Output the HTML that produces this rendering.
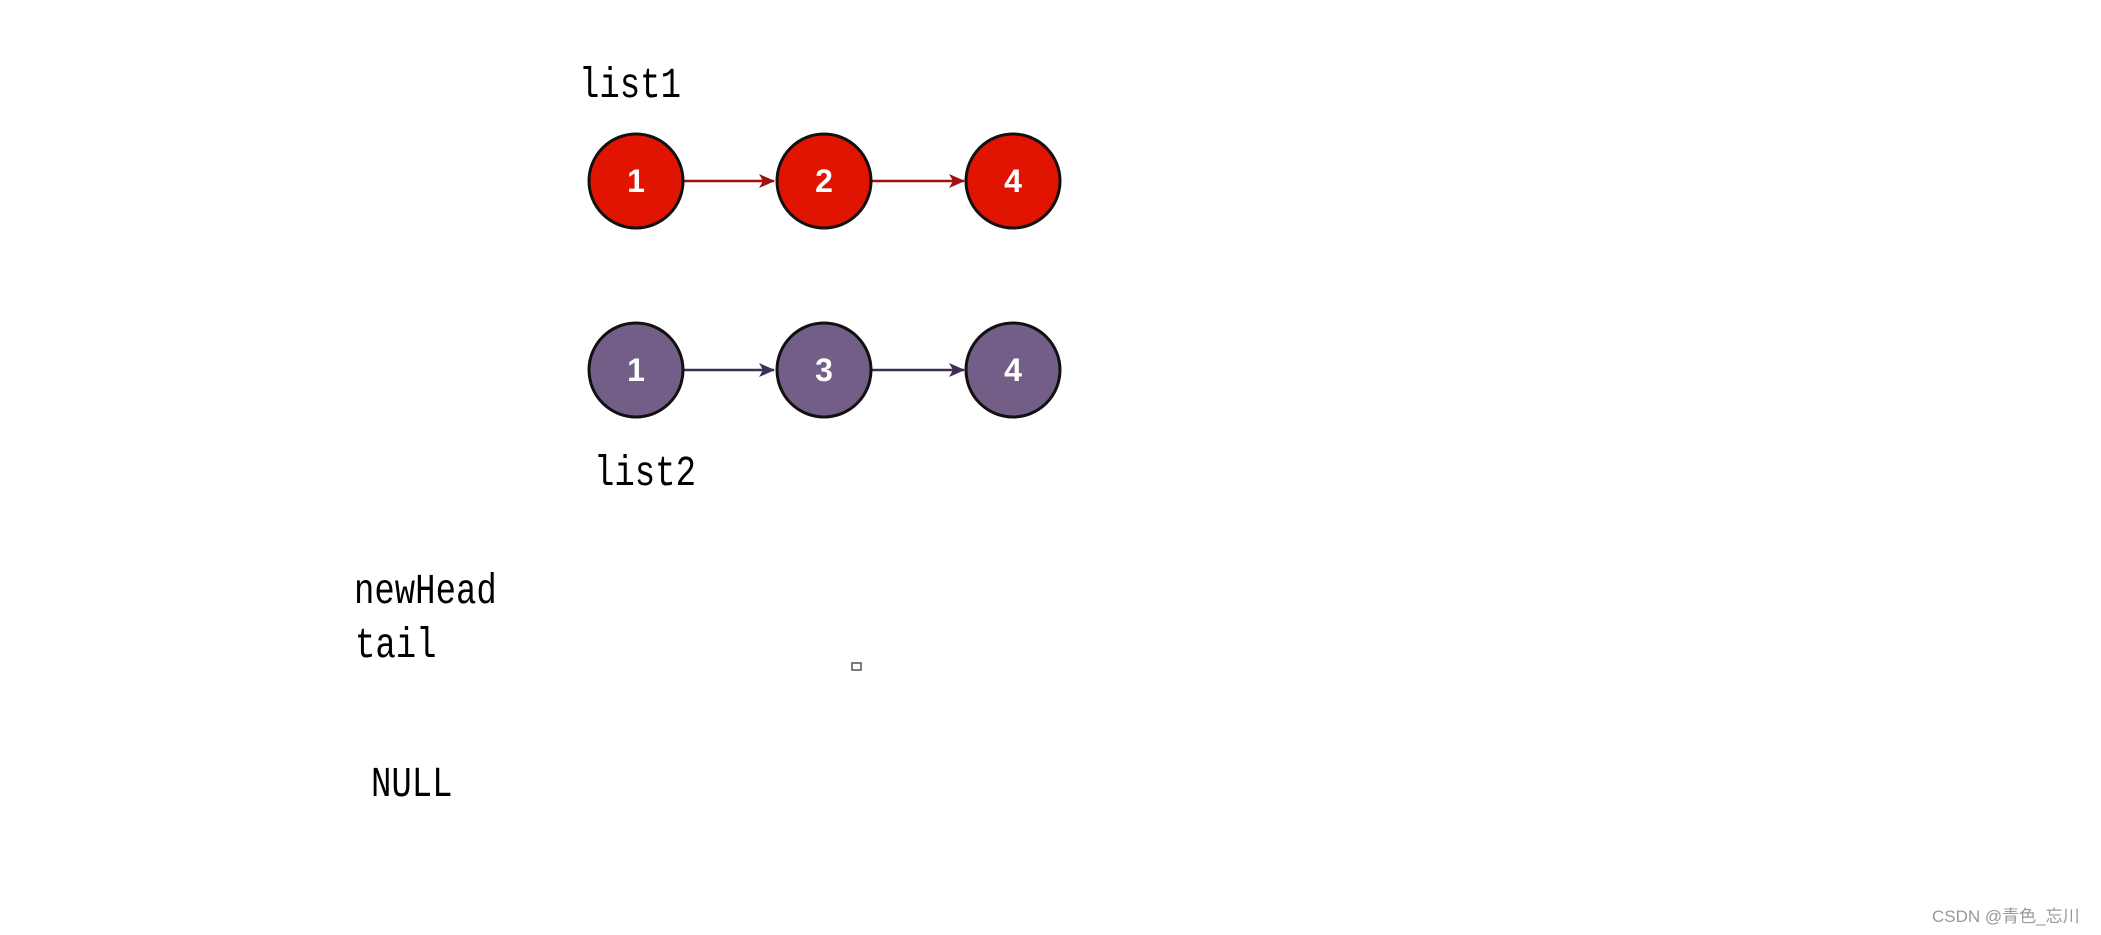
<!DOCTYPE html>
<html><head><meta charset="utf-8"><style>
html,body{margin:0;padding:0;background:#fff;width:2101px;height:935px;overflow:hidden}
</style></head><body>
<svg width="2101" height="935" xmlns="http://www.w3.org/2000/svg">
<defs>
<marker id="ar" markerWidth="16" markerHeight="14" refX="15" refY="7" orient="auto" markerUnits="userSpaceOnUse"><path d="M0,0 L16,7 L0,14 L4,7 z" fill="#a01010"/></marker>
<marker id="ap" markerWidth="16" markerHeight="14" refX="15" refY="7" orient="auto" markerUnits="userSpaceOnUse"><path d="M0,0 L16,7 L0,14 L4,7 z" fill="#3e2f58"/></marker>
</defs>
<g font-family="Liberation Mono, monospace" font-size="34" fill="#000">
<text transform="translate(579,97) scale(1,1.25)">list1</text>
<text transform="translate(594,485) scale(1,1.25)">list2</text>
<text transform="translate(354,603) scale(1,1.25)">newHead</text>
<text transform="translate(355,657) scale(1,1.25)">tail</text>
<text transform="translate(371,796) scale(1,1.25)">NULL</text>
</g>
<line x1="684" y1="181" x2="774" y2="181" stroke="#a01010" stroke-width="2.5" marker-end="url(#ar)"/>
<line x1="872" y1="181" x2="964" y2="181" stroke="#a01010" stroke-width="2.5" marker-end="url(#ar)"/>
<line x1="684" y1="370" x2="774" y2="370" stroke="#3e2f58" stroke-width="2.5" marker-end="url(#ap)"/>
<line x1="872" y1="370" x2="964" y2="370" stroke="#3e2f58" stroke-width="2.5" marker-end="url(#ap)"/>
<g stroke="#111" stroke-width="3">
<circle cx="636" cy="181" r="47" fill="#e01400"/>
<circle cx="824" cy="181" r="47" fill="#e01400"/>
<circle cx="1013" cy="181" r="47" fill="#e01400"/>
<circle cx="636" cy="370" r="47" fill="#735e88"/>
<circle cx="824" cy="370" r="47" fill="#735e88"/>
<circle cx="1013" cy="370" r="47" fill="#735e88"/>
</g>
<g font-family="Liberation Sans, sans-serif" font-weight="bold" font-size="32" fill="#fff" text-anchor="middle">
<text x="636" y="192">1</text><text x="824" y="192">2</text><text x="1013" y="192">4</text>
<text x="636" y="381">1</text><text x="824" y="381">3</text><text x="1013" y="381">4</text>
</g>
<rect x="852" y="663" width="9" height="7" fill="none" stroke="#555" stroke-width="1.5"/>
<text x="1932" y="922" font-family="Liberation Sans, 'Noto Sans CJK SC', sans-serif" font-size="17" fill="#999">CSDN @青色_忘川</text>
</svg>
</body></html>
